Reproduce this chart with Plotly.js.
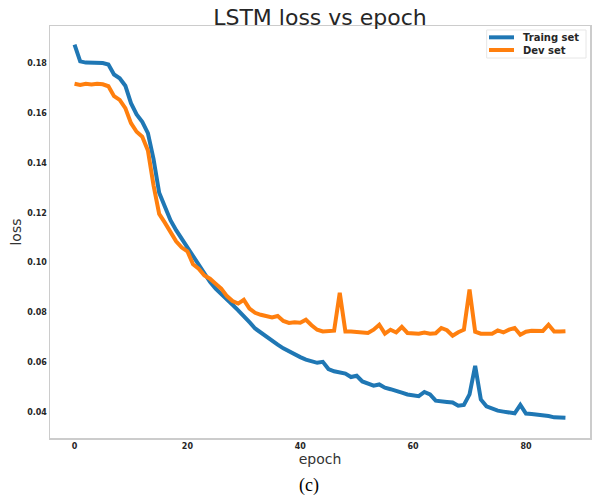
<!DOCTYPE html>
<html>
<head>
<meta charset="utf-8">
<script src="https://cdn.plot.ly/plotly-3.0.1.min.js"></script>
<style>
  html, body { margin: 0; padding: 0; background: #ffffff; }
  #chart { width: 593px; height: 497px; }
</style>
</head>
<body>
<div id="chart"></div>
<script>
const epochs = [];
for (let i = 0; i <= 87; i++) epochs.push(i);

const trainLoss = [
  0.1875, 0.1808, 0.1803, 0.1803, 0.1802, 0.1801, 0.1795, 0.1755, 0.1740, 0.1710,
  0.1640, 0.1595, 0.1565, 0.1520, 0.1415, 0.1280, 0.1225, 0.1170, 0.1130, 0.1095,
  0.1063, 0.1025, 0.0990, 0.0955, 0.0922, 0.0895, 0.0875, 0.0852, 0.0830, 0.0808,
  0.0786, 0.0760, 0.0735, 0.0718, 0.0700, 0.0685, 0.0670, 0.0655, 0.0642, 0.0630,
  0.0620, 0.0610, 0.0603, 0.0597, 0.0601, 0.0572, 0.0563, 0.0558, 0.0554, 0.0540,
  0.0545, 0.0522, 0.0512, 0.0505, 0.0510, 0.0497, 0.0491, 0.0486, 0.0477, 0.0470,
  0.0467, 0.0463, 0.0480, 0.0470, 0.0445, 0.0441, 0.0440, 0.0438, 0.0425, 0.0428,
  0.0470, 0.0585, 0.0450, 0.0422, 0.0412, 0.0405, 0.0401, 0.0399, 0.0394, 0.0428,
  0.0393, 0.0391, 0.0389, 0.0387, 0.0383, 0.0378, 0.0375, 0.0376
];

const devLoss = [
  0.1718, 0.1713, 0.1718, 0.1715, 0.1718, 0.1716, 0.1708, 0.1668, 0.1653, 0.1620,
  0.1560, 0.1525, 0.1505, 0.1450, 0.1310, 0.1195, 0.1160, 0.1120, 0.1085, 0.1060,
  0.1045, 0.0993, 0.0975, 0.0948, 0.0935, 0.0915, 0.0895, 0.0865, 0.0845, 0.0835,
  0.0850, 0.0815, 0.0798, 0.0790, 0.0783, 0.0779, 0.0785, 0.0765, 0.0757, 0.0760,
  0.0758, 0.0770, 0.0748, 0.0730, 0.0723, 0.0723, 0.0726, 0.0878, 0.0723, 0.0723,
  0.0720, 0.0718, 0.0717, 0.0730, 0.0750, 0.0714, 0.0730, 0.0719, 0.0741, 0.0717,
  0.0715, 0.0714, 0.0719, 0.0714, 0.0716, 0.0737, 0.0728, 0.0706, 0.0720, 0.0730,
  0.0891, 0.0722, 0.0714, 0.0714, 0.0714, 0.0727, 0.0719, 0.0730, 0.0737, 0.0710,
  0.0722, 0.0726, 0.0726, 0.0725, 0.0750, 0.0723, 0.0723, 0.0724
];

const seriesNames = ['Traing set', 'Dev set'];
const seriesColors = ['#1f77b4', '#ff7f0e'];
const xTicks = [0, 20, 40, 60, 80];
const yTicks = [0.04, 0.06, 0.08, 0.10, 0.12, 0.14, 0.16, 0.18];

const traces = [
  { x: epochs, y: trainLoss, type: 'scatter', mode: 'lines', name: seriesNames[0],
    line: { color: seriesColors[0], width: 4 } },
  { x: epochs, y: devLoss, type: 'scatter', mode: 'lines', name: seriesNames[1],
    line: { color: seriesColors[1], width: 4 } }
];

const tickFont = { family: 'DejaVu Sans', size: 8, color: '#262626', weight: 'bold' };

// legend drawn in paper coordinates (matplotlib-like compact legend)
const legBox = { x0: 0.8087, x1: 0.9926, y0: 0.9223, y1: 0.9903 };
const legRows = [0.9725, 0.9417];
const shapes = [
  { type: 'rect', xref: 'paper', yref: 'paper', x0: legBox.x0, x1: legBox.x1, y0: legBox.y0, y1: legBox.y1,
    fillcolor: 'rgba(255,255,255,0.9)', line: { color: '#e6e6e6', width: 1 } }
];
const annotations = [];
seriesNames.forEach((nm, i) => {
  shapes.push({ type: 'line', xref: 'paper', yref: 'paper', x0: 0.8130, x1: 0.8593,
    y0: legRows[i], y1: legRows[i], line: { color: seriesColors[i], width: 4 } });
  annotations.push({ text: '<b>' + nm + '</b>', xref: 'paper', yref: 'paper', x: 0.8722, y: legRows[i],
    xanchor: 'left', yanchor: 'middle', showarrow: false,
    font: { family: 'DejaVu Sans', size: 10, color: '#262626' } });
});
annotations.push({ text: '(c)', xref: 'paper', yref: 'paper', x: 0.48, y: 0, yshift: -35,
  xanchor: 'center', yanchor: 'top', showarrow: false,
  font: { family: 'Liberation Serif', size: 18, color: '#000000' } });

const layout = {
  width: 593, height: 497,
  margin: { l: 50, r: 3, t: 26, b: 59 },
  paper_bgcolor: '#ffffff', plot_bgcolor: '#ffffff',
  title: { text: 'LSTM loss vs epoch', x: 0.5, xref: 'paper', xanchor: 'center',
           y: 1, yref: 'paper', yanchor: 'bottom', pad: { b: 1 },
           font: { family: 'DejaVu Sans', size: 22, color: '#262626' } },
  xaxis: {
    range: [-4.35, 91.35], tickvals: xTicks, ticktext: xTicks.map(String),
    showgrid: false, zeroline: false, showline: true, mirror: true,
    linecolor: '#cccccc', linewidth: 1.5, ticks: '', tickfont: tickFont,
    title: { text: 'epoch', standoff: 4, font: { family: 'DejaVu Sans', size: 14, color: '#333333' } }
  },
  yaxis: {
    range: [0.0295, 0.195], tickvals: yTicks, ticktext: yTicks.map(v => v.toFixed(2)),
    showgrid: false, zeroline: false, showline: true, mirror: true,
    linecolor: '#cccccc', linewidth: 1.5, ticks: '', tickfont: tickFont,
    title: { text: 'loss', standoff: 2, font: { family: 'DejaVu Sans', size: 14, color: '#333333' } }
  },
  showlegend: false,
  shapes: shapes,
  annotations: annotations
};

Plotly.newPlot('chart', traces, layout, { displayModeBar: false, staticPlot: true });
</script>
</body>
</html>
